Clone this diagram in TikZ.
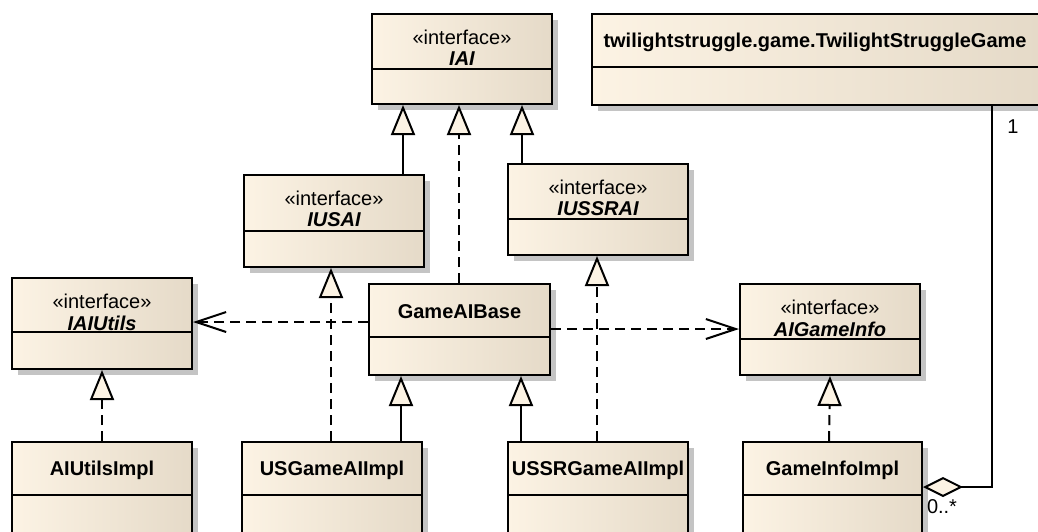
\documentclass[tikz,border=0pt]{standalone}
\usepackage{fontspec}
\setmainfont{Liberation Sans}
\usetikzlibrary{arrows.meta,shadows}

\definecolor{creamL}{RGB}{252,243,228}
\definecolor{creamR}{RGB}{229,218,200}
\definecolor{shadowgray}{RGB}{196,196,196}

\tikzset{
  boxstyle/.style={rectangle, inner sep=0pt, line width=2pt, draw=black,
    left color=creamL, right color=creamR,
    drop shadow={shadow xshift=6pt, shadow yshift=-6pt, fill=shadowgray, opacity=1}},
  boxline/.style={line width=2pt},
  stereo/.style={inner sep=0pt, font=\fontsize{20pt}{22pt}\selectfont},
  ifname/.style={inner sep=0pt, font=\fontsize{20pt}{22pt}\selectfont\bfseries\itshape},
  clname/.style={inner sep=0pt, font=\fontsize{20pt}{22pt}\selectfont\bfseries},
  mult/.style={inner sep=0pt, font=\fontsize{20pt}{22pt}\selectfont},
  conn/.style={line width=2pt},
  dashedconn/.style={line width=2pt, dash pattern=on 10pt off 6pt},
  gen/.style={-{Triangle[length=30pt,width=24pt,fill=creamL,line join=miter]}},
  dep/.style={-{Straight Barb[length=30pt,width=20pt]}},
  agg/.style={{Diamond[length=40pt,width=20pt,fill=creamL]}-},
}

% box: name, left x, top y, width, height, divider offset from top
\newcommand\umlbox[6]{%
  \node[boxstyle, minimum width=#4pt, minimum height=#5pt, anchor=north west] (#1) at (#2,#3) {};
  \draw[boxline] ([yshift=-#6pt]#1.north west) -- ([yshift=-#6pt]#1.north east);
}
% interface header: box name, divider offset, name
\newcommand\ifhead[3]{%
  \node[stereo] (#1-st) at ([yshift=-24pt]#1.north) {«interface»};
  \node[ifname] (#1-nm) at ([yshift=-46pt]#1.north) {#3};
}
% class header: box name, text offset, name
\newcommand\clhead[3]{%
  \node[clname] (#1-nm) at ([yshift=-#2pt]#1.north) {#3};
}

\begin{document}
\begin{tikzpicture}[x=1pt,y=-1pt]
\useasboundingbox (0,0) rectangle (1038,531);
\clip (0,0) rectangle (1038,531);

% interfaces
\umlbox{iai}{371}{13}{180}{90}{56}
\ifhead{iai}{56}{IAI}
\umlbox{iusai}{243}{174}{180}{92}{57}
\ifhead{iusai}{57}{IUSAI}
\umlbox{iussrai}{507}{163}{180}{91}{56}
\ifhead{iussrai}{56}{IUSSRAI}
\umlbox{iaiutils}{11}{277}{180}{91}{55}
\ifhead{iaiutils}{55}{IAIUtils}
\umlbox{aigameinfo}{739}{283}{180}{91}{56}
\ifhead{aigameinfo}{56}{AIGameInfo}

% classes
\umlbox{tsg}{591}{13}{448}{91}{54}
\node[clname] (tsg-nm) at (815,42) {twilightstruggle.game.TwilightStruggleGame};
\umlbox{gameaibase}{368}{283}{181}{91}{54}
\clhead{gameaibase}{29}{GameAIBase}
\umlbox{aiutilsimpl}{11}{441}{180}{130}{54}
\clhead{aiutilsimpl}{29}{AIUtilsImpl}
\umlbox{usgameaiimpl}{241}{441}{180}{130}{54}
\clhead{usgameaiimpl}{29}{USGameAIImpl}
\umlbox{ussrgameaiimpl}{507}{441}{180}{130}{54}
\clhead{ussrgameaiimpl}{29}{USSRGameAIImpl}
\umlbox{gameinfoimpl}{742}{441}{179}{130}{54}
\clhead{gameinfoimpl}{29}{GameInfoImpl}

% generalizations (solid)
\draw[conn,gen] ([xshift=160pt]iusai.north west) -- ([xshift=32pt]iai.south west);
\draw[conn,gen] ([xshift=15pt]iussrai.north west) -- ([xshift=151pt]iai.south west);
\draw[conn,gen] ([xshift=160pt]usgameaiimpl.north west) -- ([xshift=33pt]gameaibase.south west);
\draw[conn,gen] ([xshift=14pt]ussrgameaiimpl.north west) -- ([xshift=153pt]gameaibase.south west);

% realizations (dashed)
\draw[dashedconn,gen] ([xshift=91pt]gameaibase.north west) -- ([xshift=88pt]iai.south west);
\draw[dashedconn,gen] ([xshift=90pt]usgameaiimpl.north west) -- ([xshift=88pt]iusai.south west);
\draw[dashedconn,gen] ([xshift=90pt]ussrgameaiimpl.north west) -- ([xshift=90pt]iussrai.south west);
\draw[dashedconn,gen] (aiutilsimpl.north) -- (iaiutils.south);
\draw[dashedconn,gen] ([xshift=87pt]gameinfoimpl.north west) -- (aigameinfo.south);

% dependencies
\draw[dashedconn,dep] ([yshift=-39pt]gameaibase.north west) -- ([yshift=-45pt]iaiutils.north east);
\draw[dashedconn,dep] ([yshift=-46pt]gameaibase.north east) -- ([yshift=-46pt]aigameinfo.north west);

% aggregation
\draw[conn,agg] ([yshift=-46pt]gameinfoimpl.north east) -| ([xshift=401pt]tsg.south west);
\node[mult] (m1) at (1013,127) {1};
\node[mult] (m2) at (942,507) {0..*};
\end{tikzpicture}
\end{document}
